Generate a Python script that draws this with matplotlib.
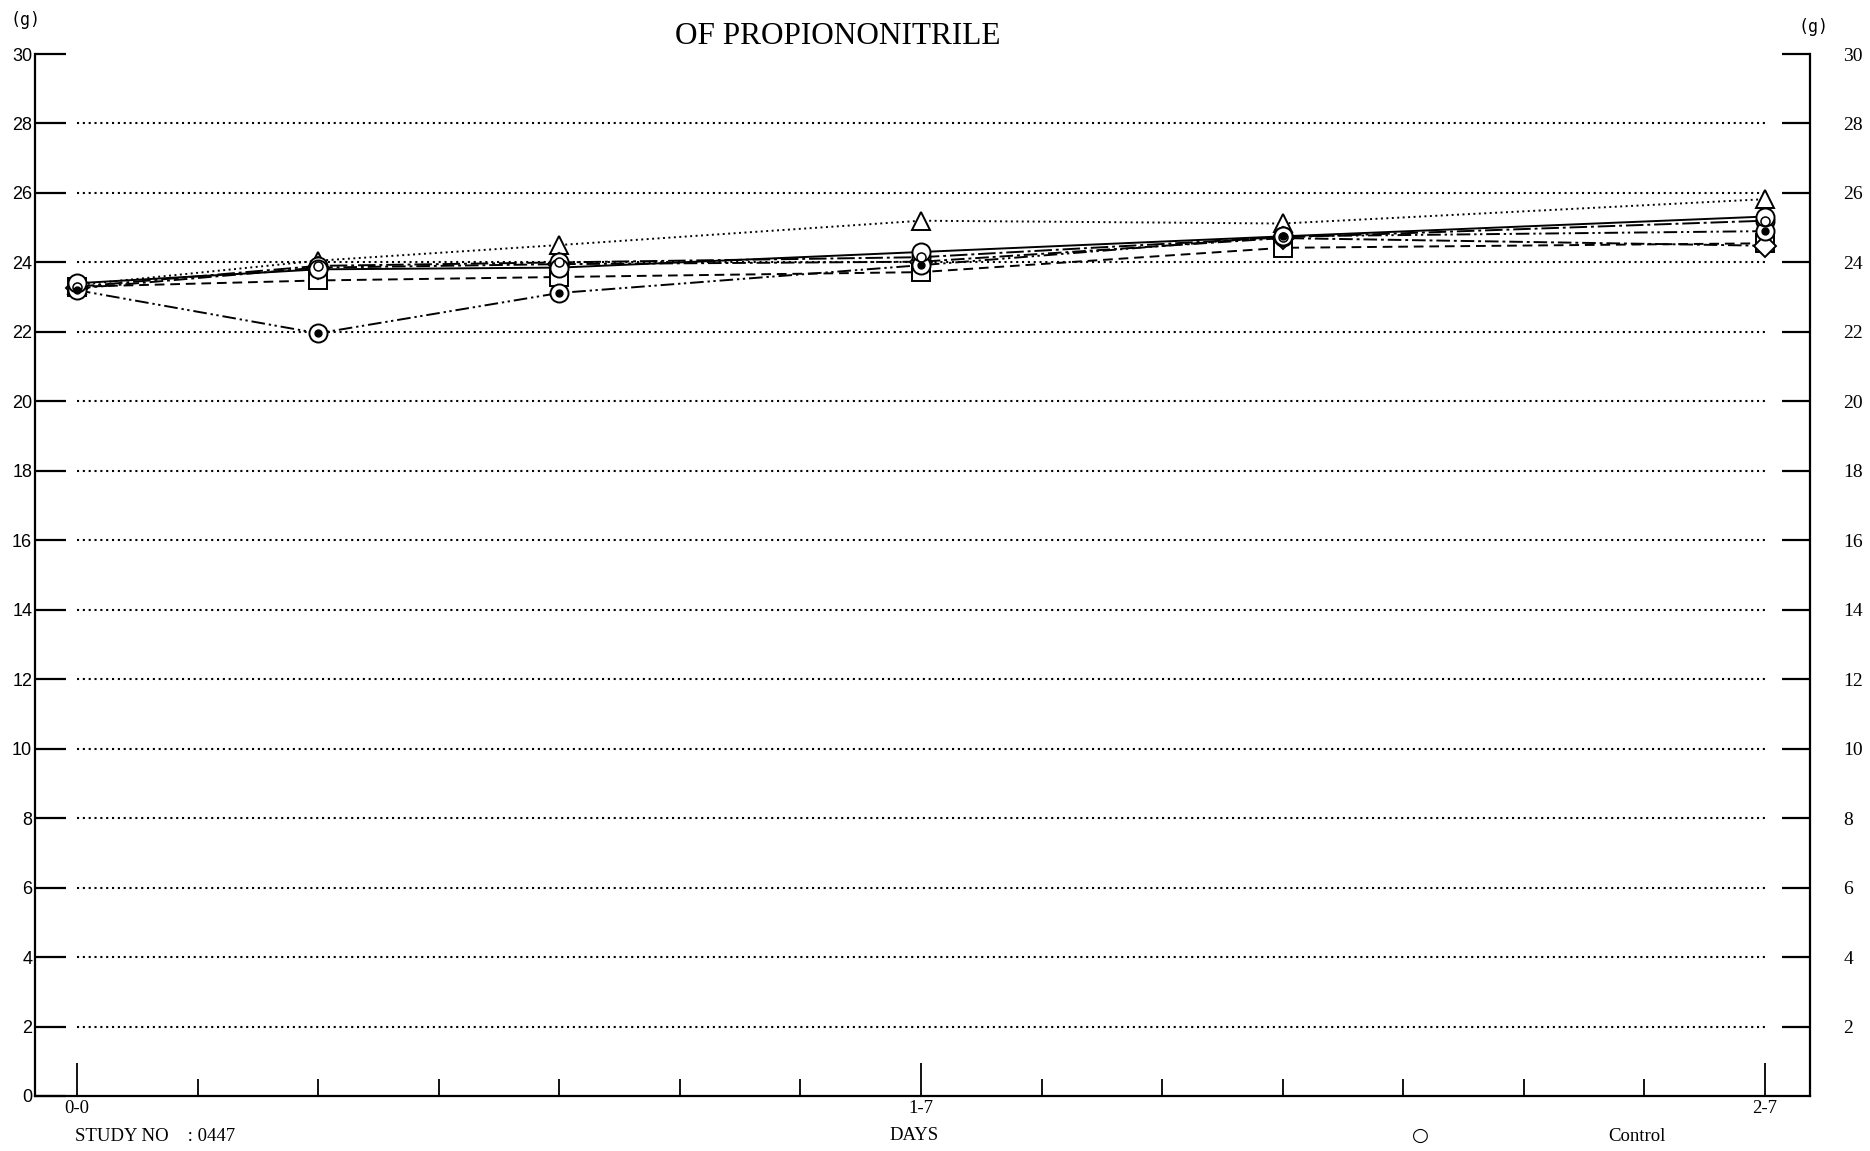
import numpy as np
import matplotlib
matplotlib.use('Agg')
import matplotlib.pyplot as plt

W, H = 1870, 1151
DPI = 100

days = [0, 2, 4, 7, 10, 14]
tick_days = list(range(0, 15))
major_days = [0, 7, 14]
major_labels = ['0-0', '1-7', '2-7']
grid_vals = list(range(2, 29, 2))

# body weight (g) per group
control = [23.40, 23.80, 23.85, 24.30, 24.75, 25.32]
group_tri = [23.35, 24.05, 24.50, 25.20, 25.12, 25.82]
group_sq = [23.30, 23.48, 23.58, 23.72, 24.42, 24.55]
group_dia = [23.25, 23.85, 23.95, 24.02, 24.70, 24.48]
group_dot = [23.20, 21.96, 23.12, 23.92, 24.75, 24.90]
group_dbl = [23.30, 23.90, 24.00, 24.15, 24.72, 25.20]

SERIF = 'Liberation Serif'
SANS = 'Liberation Sans'


def px(x, y):
    # figure pixel (from top-left) -> figure fraction
    return x / W, 1 - y / H


fig = plt.figure(figsize=(W / DPI, H / DPI), dpi=DPI)
fig.patch.set_facecolor('white')

l, r, t, b = 35, 1810, 54, 1096
ax = fig.add_axes([l / W, 1 - b / H, (r - l) / W, (b - t) / H])
ax.set_xlim(-0.348, 14.373)
ax.set_ylim(0, 30)

# dotted reference lines
ax.hlines(grid_vals, days[0], days[-1], colors='black', linewidth=1.5,
          linestyles=[(0, (1.0, 1.8))], zorder=1)

mk = dict(markersize=13, markerfacecolor='white', markeredgecolor='black',
          markeredgewidth=1.4, color='black', linewidth=1.4, zorder=3)
ax.plot(days, group_tri, marker='^', linestyle=(0, (1.0, 1.8)), **mk)
ax.plot(days, group_sq, marker='s', linestyle=(0, (5, 3)), **mk)
ax.plot(days, group_dia, marker='D', linestyle=(0, (7, 2, 1.5, 2)), markersize=11,
        **{k: v for k, v in mk.items() if k != 'markersize'})
ax.plot(days, group_dbl, marker='o', linestyle=(0, (9, 2, 1.5, 2)), **mk)
ax.plot(days, group_dbl, marker='o', linestyle='none', markersize=6.5,
        markerfacecolor='white', markeredgecolor='black', markeredgewidth=1.1, zorder=4)
ax.plot(days, group_dot, marker='o', linestyle=(0, (7, 2, 1.2, 1.8, 1.2, 2)), **mk)
ax.plot(days, group_dot, marker='o', linestyle='none', markersize=5,
        color='black', zorder=4)
ax.plot(days, control, marker='o', linestyle='-', **mk)

# axes frame
for s in ['left', 'right', 'bottom']:
    ax.spines[s].set_linewidth(1.6)
ax.spines['top'].set_visible(False)

ax.set_xticks(major_days)
ax.set_xticklabels(major_labels, fontfamily=SERIF, fontsize=13.5)
ax.set_xticks([d for d in tick_days if d not in major_days], minor=True)
ax.tick_params(axis='x', which='major', direction='in', length=24, width=1.3, pad=3)
ax.tick_params(axis='x', which='minor', direction='in', length=12, width=1.3)

ax.set_yticks(range(0, 31, 2))
ax.set_yticklabels([str(v) for v in range(0, 31, 2)], fontfamily=SANS, fontsize=13)
ax.tick_params(axis='y', which='major', direction='in', length=22, width=1.6, pad=2,
               right=False)

ax2 = ax.twinx()
ax2.set_ylim(0, 30)
ax2.set_yticks(range(2, 31, 2))
ax2.set_yticklabels([str(v) for v in range(2, 31, 2)], fontfamily=SERIF, fontsize=14)
ax2.tick_params(axis='y', direction='in', length=20, width=1.6, pad=24)
for s in ax2.spines.values():
    s.set_visible(False)

# texts
fig.text(*px(26, 20), '(g)', fontfamily='DejaVu Sans Mono', fontsize=12,
         ha='center', va='center')
fig.text(*px(1813, 27), '(g)', fontfamily='DejaVu Sans Mono', fontsize=12,
         ha='center', va='center')
fig.text(*px(838, 37), 'OF PROPIONONITRILE', fontfamily=SERIF, fontsize=22.5,
         ha='center', va='center')
fig.text(*px(914, 1127), 'DAYS', fontfamily=SERIF, fontsize=13.5, ha='center', va='top')
fig.text(*px(75, 1128), 'STUDY NO    : 0447', fontfamily=SERIF, fontsize=13.5,
         ha='left', va='top')
fig.text(*px(1420, 1126), '\u25cb', fontfamily='DejaVu Sans', fontsize=14,
         ha='center', va='top')
fig.text(*px(1608, 1128), 'Control', fontfamily=SERIF, fontsize=13.5, ha='left', va='top')

fig.savefig('out.png', dpi=DPI, facecolor='white')
